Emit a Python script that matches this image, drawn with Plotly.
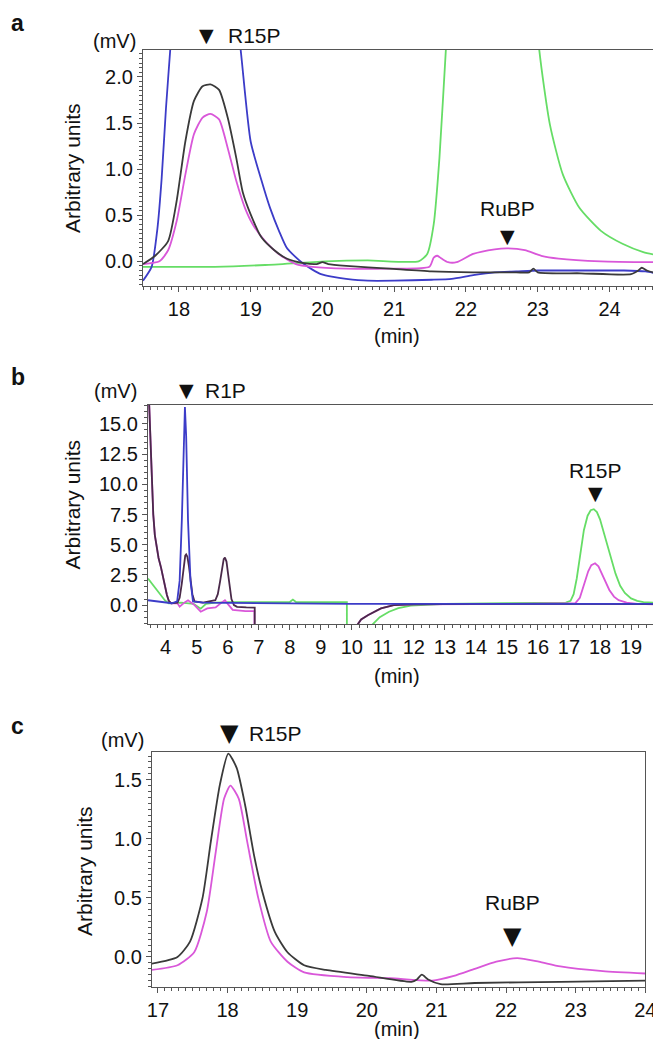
import plotly.graph_objects as go

# panel a: 17.5-24.7 min
a_blue_t = [17.5, 17.62, 17.7, 17.76, 17.82, 17.88, 18.0, 18.4, 18.75, 18.86, 19.0, 19.15, 19.27, 19.4, 19.5, 19.62,
            19.74, 19.86, 19.98, 20.15, 20.33, 20.63, 21.0, 21.52, 21.8, 22.1, 22.4, 22.7, 23.0, 23.3, 23.6, 23.97,
            24.2, 24.5, 24.71]
a_blue_v = [-0.21, -0.06, 0.35, 0.9, 1.66, 2.3, 3.6, 5.0, 3.0, 2.3, 1.3, 0.88, 0.58, 0.32, 0.15, 0.05,
            -0.03, -0.09, -0.14, -0.17, -0.19, -0.21, -0.21, -0.2, -0.19, -0.15, -0.12, -0.11, -0.1, -0.1, -0.1, -0.1,
            -0.1, -0.11, -0.14]
a_black_t = [17.5, 17.67, 17.85, 17.97, 18.09, 18.21, 18.33, 18.44, 18.56, 18.68, 18.8, 18.89, 19.0, 19.15, 19.33,
             19.5, 19.74, 19.92, 20.0, 20.08, 20.33, 20.93, 21.52, 22.1, 22.7, 22.88, 22.94, 23.0, 23.6, 24.3, 24.4,
             24.45, 24.52, 24.71]
a_black_v = [-0.03, 0.06, 0.22, 0.66, 1.3, 1.74, 1.9, 1.92, 1.86, 1.56, 1.12, 0.75, 0.51, 0.26, 0.12,
             0.03, -0.02, -0.03, -0.01, -0.03, -0.05, -0.08, -0.11, -0.12, -0.12, -0.12, -0.08, -0.12, -0.13, -0.14,
             -0.1, -0.07, -0.1, -0.14]
a_mag_t = [17.5, 17.73, 17.85, 17.97, 18.09, 18.21, 18.33, 18.44, 18.56, 18.68, 18.8, 18.92, 19.03, 19.21, 19.39,
           19.63, 19.86, 20.33, 20.93, 21.49, 21.55, 21.6, 21.66, 21.75, 21.87, 22.1, 22.4, 22.58, 22.82, 23.05,
           23.29, 23.88, 24.71]
a_mag_v = [-0.03, 0.0, 0.12, 0.44, 0.94, 1.38, 1.56, 1.6, 1.54, 1.23, 0.87, 0.58, 0.4, 0.21, 0.08,
           -0.03, -0.06, -0.08, -0.08, -0.06, 0.04, 0.06, 0.03, -0.01, -0.01, 0.08, 0.13, 0.14, 0.12, 0.06,
           0.03, 0.0, -0.01]
a_green_t = [17.5, 18.5, 19.2, 20.04, 20.63, 21.34, 21.46, 21.55, 21.63, 21.72, 21.9, 22.35, 22.8, 23.02, 23.17,
             23.35, 23.58, 23.88, 24.18, 24.47, 24.71]
a_green_v = [-0.06, -0.06, -0.04, 0.0, 0.01, 0.0, 0.08, 0.4, 1.12, 2.3, 4.5, 7.0, 4.5, 2.3, 1.48,
             0.94, 0.58, 0.33, 0.19, 0.1, 0.06]

# panel b: 3.4-20 min (the -30 points are the off-scale dips)
b_blue_t = [3.43, 3.8, 4.2, 4.37, 4.45, 4.52, 4.58, 4.62, 4.66, 4.72, 4.8, 4.88, 5.2, 6.0, 8.0, 10.0, 12.0, 14.0,
            16.0, 18.0, 19.95]
b_blue_v = [0.4, 0.25, 0.15, 0.3, 2.0, 7.0, 13.5, 16.4, 14.0, 7.0, 2.0, 0.3, 0.2, 0.18, 0.15, 0.1, 0.1, 0.1,
            0.1, 0.12, 0.1]
b_black_t = [3.43, 3.47, 3.52, 3.56, 3.6, 3.65, 3.72, 3.77, 3.85, 3.9, 3.97, 4.04, 4.1, 4.18, 4.38, 4.45, 4.52,
             4.58, 4.63, 4.66, 4.7, 4.75, 4.8, 4.86, 4.93, 5.2, 5.6, 5.68, 5.75, 5.81, 5.87, 5.91, 5.96, 6.01, 6.06,
             6.12, 6.2, 6.3, 6.6, 6.87, 6.88, 10.15, 10.19, 10.3, 10.53, 10.94, 11.35, 12.0, 14.0, 16.0, 18.0,
             19.95]
b_black_v = [18.0, 16.5, 13.0, 10.2, 7.5, 5.8, 4.6, 3.9, 3.1, 2.5, 1.5, 0.83, 0.35, 0.14, 0.2, 0.6, 1.8,
             3.3, 4.1, 4.2, 4.0, 3.2, 2.0, 0.9, 0.3, 0.2, 0.4, 0.9, 1.9, 3.0, 3.8, 3.93, 3.6, 2.6, 1.4,
             0.5, 0.0, -0.15, -0.2, -0.22, -30.0, -30.0, -1.6, -1.2, -0.83, -0.28, 0.0, 0.05, 0.1, 0.1, 0.1,
             0.08]
b_mag_t = [3.43, 3.47, 3.52, 3.56, 3.6, 3.65, 3.72, 3.77, 3.85, 3.9, 3.97, 4.04, 4.1, 4.18, 4.38, 4.45, 4.6,
           4.72, 4.93, 5.13, 5.34, 5.61, 5.8, 5.91, 6.0, 6.16, 6.57, 6.86, 6.87, 10.15, 10.19, 10.3, 10.53, 10.94,
           11.35, 12.0, 14.0, 16.0, 17.0, 17.2, 17.35, 17.5, 17.62, 17.72, 17.84, 17.95, 18.05, 18.18, 18.3, 18.45,
           18.6, 18.86, 19.2, 19.95]
b_mag_v = [18.0, 16.5, 13.0, 10.2, 7.5, 5.8, 4.6, 3.9, 3.1, 2.5, 1.5, 0.83, 0.35, 0.14, 0.14, -0.14, 0.2,
           0.4, 0.0, -0.55, -0.28, -0.2, 0.2, 0.4, 0.1, -0.4, -0.5, -0.5, -30.0, -30.0, -1.6, -1.2, -0.83, -0.28,
           0.0, 0.05, 0.08, 0.1, 0.1, 0.15, 0.6, 1.8, 2.8, 3.3, 3.46, 3.2, 2.6, 1.9, 1.25, 0.7,
           0.4, 0.2, 0.1, 0.05]
b_green_t = [3.43, 3.55, 3.7, 3.85, 3.97, 4.1, 4.5, 4.9, 5.13, 5.3, 5.6, 6.0, 7.0, 8.0, 8.1, 8.2, 9.0, 9.84,
             9.86, 10.6, 10.67, 10.9, 11.2, 11.5, 11.9, 13.0, 15.0, 16.5, 16.9, 17.05, 17.15, 17.25, 17.36, 17.48,
             17.6, 17.7, 17.8, 17.9, 18.0, 18.1, 18.2, 18.35, 18.5, 18.65, 18.8, 19.0, 19.2, 19.4, 19.95]
b_green_v = [2.2, 1.8, 1.38, 0.8, 0.4, 0.14, 0.2, 0.1, -0.3, 0.1, 0.2, 0.25, 0.25, 0.25, 0.45, 0.25, 0.25, 0.25,
             -30.0, -30.0, -1.6, -1.0, -0.55, -0.25, -0.05, 0.1, 0.15, 0.2, 0.2, 0.35, 0.9, 2.2, 4.3, 6.2,
             7.4, 7.85, 7.94, 7.7, 7.1, 6.2, 5.26, 3.8, 2.6, 1.6, 1.0, 0.55, 0.35, 0.25, 0.15]

# panel c: 17-24 min
c_black_t = [16.91, 17.28, 17.46, 17.64, 17.76, 17.89, 18.01, 18.13, 18.25, 18.38, 18.5, 18.68, 18.86, 19.1,
             19.41, 20.03, 20.64, 20.72, 20.79, 20.88, 21.06, 21.55, 22.78, 24.0]
c_black_v = [-0.057, 0.0, 0.13, 0.5, 0.98, 1.46, 1.72, 1.6, 1.29, 0.86, 0.55, 0.21, 0.04, -0.07,
             -0.11, -0.16, -0.21, -0.19, -0.15, -0.19, -0.23, -0.22, -0.21, -0.2]
c_mag_t = [16.91, 17.28, 17.52, 17.7, 17.83, 17.95, 18.04, 18.16, 18.28, 18.44, 18.62, 18.86, 19.1, 19.72,
           20.33, 20.94, 21.25, 21.55, 21.86, 22.16, 22.47, 22.78, 23.39, 24.0]
c_mag_v = [-0.11, -0.07, 0.04, 0.38, 0.89, 1.34, 1.45, 1.34, 0.98, 0.5, 0.13, -0.04, -0.13, -0.17,
           -0.18, -0.2, -0.16, -0.1, -0.04, -0.01, -0.04, -0.08, -0.12, -0.14]

BLUE = "#3c3cc8"
GREEN = "#66dd66"
MAG = "#d957d9"
BLACK = "#3a3a3a"
FONT = "Liberation Sans, Arial, sans-serif"

fig = go.Figure()

def add(t, v, color, ax, shape="spline"):
    fig.add_trace(go.Scatter(x=t, y=v, mode="lines", xaxis="x" + ax, yaxis="y" + ax,
                             line=dict(color=color, width=1.8, shape=shape, smoothing=0.6),
                             showlegend=False, hoverinfo="skip"))

add(a_green_t, a_green_v, GREEN, "")
add(a_blue_t, a_blue_v, BLUE, "")
add(a_mag_t, a_mag_v, MAG, "")
add(a_black_t, a_black_v, BLACK, "")

add(b_green_t, b_green_v, GREEN, "2", "linear")
add(b_mag_t, b_mag_v, MAG, "2", "linear")
add(b_black_t, b_black_v, "#4a2a4a", "2", "linear")
add(b_blue_t, b_blue_v, BLUE, "2", "linear")

add(c_mag_t, c_mag_v, MAG, "3")
add(c_black_t, c_black_v, BLACK, "3")

axis_common = dict(showline=True, mirror=True, linecolor="#555", linewidth=1.3, ticks="outside", ticklen=5,
                   tickcolor="#555", showgrid=False, zeroline=False, automargin=False,
                   tickfont=dict(family=FONT, size=20, color="#111"))

def xax(dom, rng, dtick, minor, anchor):
    d = dict(axis_common, domain=dom, range=rng, dtick=dtick, anchor=anchor,
             minor=dict(dtick=minor, ticks="outside", ticklen=3, tickcolor="#555"))
    return d

def yax(dom, rng, dtick, minor, anchor):
    d = dict(axis_common, domain=dom, range=rng, dtick=dtick, tick0=0, tickformat=".1f", anchor=anchor,
             minor=dict(dtick=minor, ticks="outside", ticklen=3, tickcolor="#555"))
    return d

H = 1039.0
W = 661.0

fig.update_layout(
    width=661, height=1039,
    margin=dict(l=0, r=0, t=0, b=0),
    paper_bgcolor="white", plot_bgcolor="white",
    xaxis=xax([135 / W, 652.5 / W], [17.5, 24.71], 1, 0.1, "y"),
    yaxis=yax([1 - 278 / H, 1 - 41.7 / H], [-0.268, 2.296], 0.5, 0.05, "x"),
    xaxis2=xax([140 / W, 652.5 / W], [3.43, 19.95], 1, 0.25, "y2"),
    yaxis2=yax([1 - 616 / H, 1 - 397 / H], [-1.57, 16.57], 2.5, 0.5, "x2"),
    xaxis3=xax([144 / W, 637.3 / W], [16.914, 24.0], 1, 0.1, "y3"),
    yaxis3=yax([1 - 979 / H, 1 - 744 / H], [-0.254, 1.734], 0.5, 0.05, "x3"),
)

ann = []

def text(x, y, s, size=20, xref="paper", yref="paper", xanchor="center", yanchor="middle", family=FONT,
         bold=False, angle=0):
    if bold:
        s = "<b>" + s + "</b>"
    ann.append(dict(x=x, y=y, xref=xref, yref=yref, text=s, showarrow=False, xanchor=xanchor, yanchor=yanchor,
                    textangle=angle, font=dict(family=family, size=size, color="#111")))

TRI = "DejaVu Sans"

# panel letters
for lab, ypx in [("a", 0), ("b", 354), ("c", 703)]:
    text(1 / W, 1 - ypx / H, lab, size=23, xanchor="left", yanchor="top", family="Liberation Sans, Arial",
         bold=True)

# (mV), axis titles
for xpx, ypx in [(106, 33), (108, 383), (114, 732)]:
    text(xpx / W, 1 - ypx / H, "(mV)", size=20)
for ypx in [328, 668, 1021]:
    text(389 / W, 1 - ypx / H, "(min)", size=20)
for xpx, ypx in [(64, 160), (63.5, 497), (76, 863)]:
    text(xpx / W, 1 - ypx / H, "Arbitrary units", size=21, angle=-90)

# peak markers panel a
text(18.38, 1 - 27 / H, "▼", size=19, xref="x", family=TRI)
text(18.65, 1 - 27 / H, "R15P", size=21, xref="x", xanchor="left")
text(22.58, 0.578, "RuBP", size=21, xref="x", yref="y")
text(22.58, 0.278, "▼", size=19, xref="x", yref="y", family=TRI)

# panel b
text(4.66, 1 - 382 / H, "▼", size=19, xref="x2", family=TRI)
text(5.21, 1 - 382 / H, "R1P", size=21, xref="x2", xanchor="left")
text(17.85, 11.16, "R15P", size=21, xref="x2", yref="y2")
text(17.85, 9.25, "▼", size=19, xref="x2", yref="y2", family=TRI)

# panel c
text(18.02, 1 - 725 / H, "▼", size=24, xref="x3", family=TRI)
text(18.28, 1 - 725 / H, "R15P", size=21, xref="x3", xanchor="left")
text(22.09, 0.457, "RuBP", size=21, xref="x3", yref="y3")
text(22.09, 0.175, "▼", size=24, xref="x3", yref="y3", family=TRI)

fig.update_layout(annotations=ann)

fig.write_html("out.html")
